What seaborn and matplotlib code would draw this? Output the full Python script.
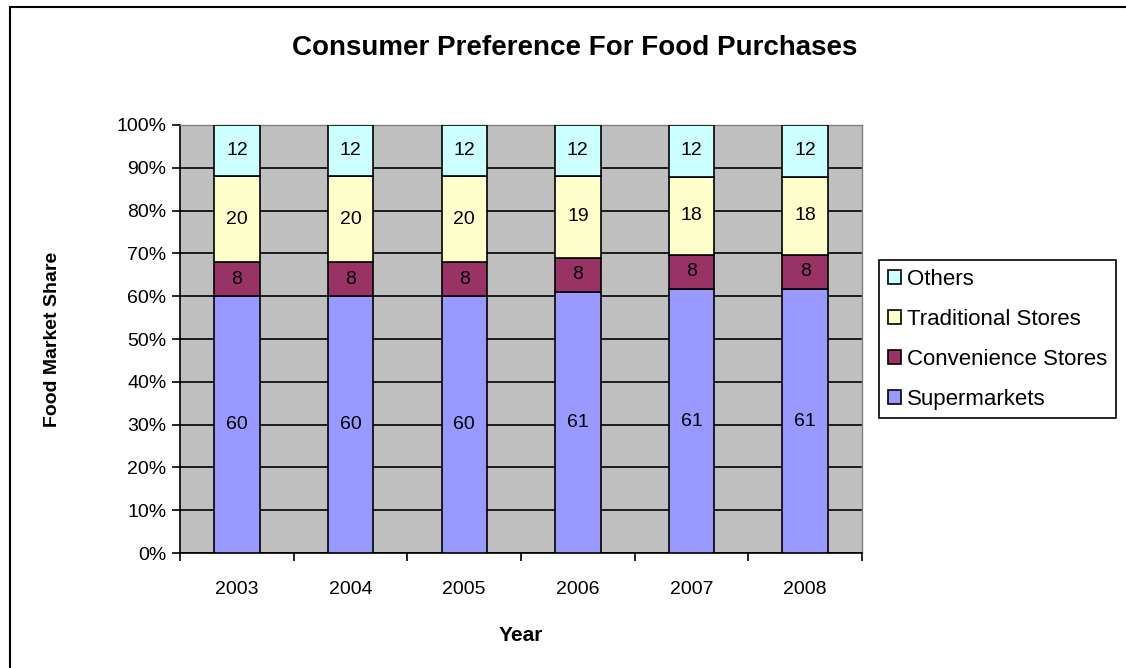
import numpy as np
import pandas as pd
import matplotlib
matplotlib.use("Agg")
import matplotlib.pyplot as plt
import seaborn as sns
from matplotlib.patches import Rectangle

years = ["2003", "2004", "2005", "2006", "2007", "2008"]
supermarkets = [60, 60, 60, 61, 61, 61]
convenience = [8, 8, 8, 8, 8, 8]
traditional = [20, 20, 20, 19, 18, 18]
others = [12, 12, 12, 12, 12, 12]

series_names = ["Supermarkets", "Convenience Stores", "Traditional Stores", "Others"]
series_colors = ["#9999FF", "#993366", "#FFFFCC", "#CCFFFF"]


def main():
    sns.set_style("white")
    plt.rcParams["font.family"] = ["Liberation Sans", "DejaVu Sans"]
    for key in ["text.color", "axes.labelcolor", "xtick.color", "ytick.color"]:
        plt.rcParams[key] = "black"

    df = pd.DataFrame({"Year": years,
                       "Supermarkets": supermarkets,
                       "Convenience Stores": convenience,
                       "Traditional Stores": traditional,
                       "Others": others})
    total = df[series_names].sum(axis=1)

    fig = plt.figure(figsize=(11.26, 6.68), dpi=100)
    ax = fig.add_axes([0.160, 0.172, 0.6055, 0.641])
    ax.set_facecolor("#C0C0C0")

    # 100% stacked columns
    bottom = np.zeros(len(df))
    for name, color in zip(series_names, series_colors):
        share = (df[name] / total * 100).to_numpy()
        sns.barplot(x=df["Year"], y=share, bottom=bottom, color=color,
                    width=0.4, edgecolor="black", linewidth=1.2,
                    saturation=1, ax=ax, legend=False, zorder=3)
        ax.bar_label(ax.containers[-1], labels=[str(v) for v in df[name]],
                     label_type="center", fontsize=14, color="black")
        bottom = bottom + share

    ax.set_ylim(0, 100)
    ax.set_xlim(-0.5, len(years) - 0.5)
    ax.set_yticks(np.arange(0, 101, 10))
    ax.set_yticklabels([f"{v}%" for v in range(0, 101, 10)], fontsize=14)
    ax.yaxis.grid(True, color="black", linewidth=1.2, zorder=1)
    ax.set_axisbelow(True)

    ax.tick_params(axis="y", direction="out", length=6, width=1.2,
                   left=True, color="black", pad=4)
    ax.tick_params(axis="x", which="major", length=0, labelsize=14, pad=20)
    ax.set_xticks(np.arange(-0.5, len(years)), minor=True)
    ax.tick_params(axis="x", which="minor", direction="out", length=6,
                   width=1.2, bottom=True, color="black")

    for side in ["left", "bottom"]:
        ax.spines[side].set_color("black")
        ax.spines[side].set_linewidth(1.2)
    for side in ["top", "right"]:
        ax.spines[side].set_color("#808080")
        ax.spines[side].set_linewidth(1)

    ax.set_xlabel("Year", fontsize=15, fontweight="bold", labelpad=20)
    ax.set_ylabel("Food Market Share", fontsize=14, fontweight="bold", labelpad=40)

    fig.suptitle("Consumer Preference For Food Purchases", fontsize=20,
                 fontweight="bold", x=0.51, y=0.947)

    # legend in reverse order, like Excel
    handles = [Rectangle((0, 0), 1, 1, facecolor=c, edgecolor="black", linewidth=1.2)
               for c in series_colors][::-1]
    leg = fig.legend(handles, series_names[::-1], loc="upper left",
                     bbox_to_anchor=(879 / 1126, 1 - 260 / 668),
                     fontsize=16, frameon=True, fancybox=False,
                     edgecolor="black", handlelength=0.6, handleheight=0.6,
                     handletextpad=0.25, labelspacing=0.85, borderpad=0.4,
                     borderaxespad=0, framealpha=1)
    leg.get_frame().set_linewidth(1.2)

    # outer chart frame
    fig.patches.append(Rectangle((10 / 1126, -0.05), 1.1, 1 - 7 / 668 + 0.05,
                                 transform=fig.transFigure, fill=False,
                                 edgecolor="black", linewidth=1.5))

    plt.savefig("out.png", dpi=100)
    plt.close("all")


if __name__ == "__main__":
    main()
